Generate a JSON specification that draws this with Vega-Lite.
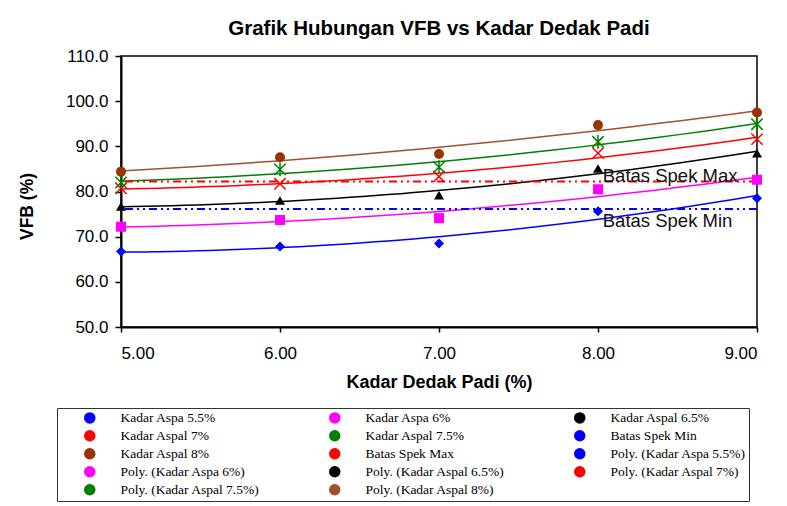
{
  "$schema": "https://vega.github.io/schema/vega-lite/v6.json",
  "width": 636,
  "height": 271,
  "autosize": {"type": "none"},
  "padding": {"left": 121, "top": 56, "right": 30, "bottom": 179},
  "background": "white",
  "title": {
    "text": "Grafik Hubungan VFB vs Kadar Dedak Padi",
    "anchor": "middle",
    "font": "Liberation Sans",
    "fontSize": 20.5,
    "fontWeight": "bold",
    "color": "black",
    "offset": 8
  },
  "datasets": {
    "pts": [
      {"x": 5, "vfb": 66.7, "series": "Kadar Aspa 5.5%", "trend": "Poly. (Kadar Aspa 5.5%)"},
      {"x": 6, "vfb": 67.8, "series": "Kadar Aspa 5.5%", "trend": "Poly. (Kadar Aspa 5.5%)"},
      {"x": 7, "vfb": 68.5, "series": "Kadar Aspa 5.5%", "trend": "Poly. (Kadar Aspa 5.5%)"},
      {"x": 8, "vfb": 75.6, "series": "Kadar Aspa 5.5%", "trend": "Poly. (Kadar Aspa 5.5%)"},
      {"x": 9, "vfb": 78.5, "series": "Kadar Aspa 5.5%", "trend": "Poly. (Kadar Aspa 5.5%)"},
      {"x": 5, "vfb": 72.2, "series": "Kadar Aspa 6%", "trend": "Poly. (Kadar Aspa 6%)"},
      {"x": 6, "vfb": 73.7, "series": "Kadar Aspa 6%", "trend": "Poly. (Kadar Aspa 6%)"},
      {"x": 7, "vfb": 74.1, "series": "Kadar Aspa 6%", "trend": "Poly. (Kadar Aspa 6%)"},
      {"x": 8, "vfb": 80.5, "series": "Kadar Aspa 6%", "trend": "Poly. (Kadar Aspa 6%)"},
      {"x": 9, "vfb": 82.6, "series": "Kadar Aspa 6%", "trend": "Poly. (Kadar Aspa 6%)"},
      {"x": 5, "vfb": 76.7, "series": "Kadar Aspal 6.5%", "trend": "Poly. (Kadar Aspal 6.5%)"},
      {"x": 6, "vfb": 78.0, "series": "Kadar Aspal 6.5%", "trend": "Poly. (Kadar Aspal 6.5%)"},
      {"x": 7, "vfb": 79.2, "series": "Kadar Aspal 6.5%", "trend": "Poly. (Kadar Aspal 6.5%)"},
      {"x": 8, "vfb": 85.1, "series": "Kadar Aspal 6.5%", "trend": "Poly. (Kadar Aspal 6.5%)"},
      {"x": 9, "vfb": 88.5, "series": "Kadar Aspal 6.5%", "trend": "Poly. (Kadar Aspal 6.5%)"},
      {"x": 5, "vfb": 80.7, "series": "Kadar Aspal 7%", "trend": "Poly. (Kadar Aspal 7%)"},
      {"x": 6, "vfb": 81.7, "series": "Kadar Aspal 7%", "trend": "Poly. (Kadar Aspal 7%)"},
      {"x": 7, "vfb": 83.3, "series": "Kadar Aspal 7%", "trend": "Poly. (Kadar Aspal 7%)"},
      {"x": 8, "vfb": 88.5, "series": "Kadar Aspal 7%", "trend": "Poly. (Kadar Aspal 7%)"},
      {"x": 9, "vfb": 91.6, "series": "Kadar Aspal 7%", "trend": "Poly. (Kadar Aspal 7%)"},
      {"x": 5, "vfb": 82.0, "series": "Kadar Aspal 7.5%", "trend": "Poly. (Kadar Aspal 7.5%)"},
      {"x": 6, "vfb": 84.9, "series": "Kadar Aspal 7.5%", "trend": "Poly. (Kadar Aspal 7.5%)"},
      {"x": 7, "vfb": 85.4, "series": "Kadar Aspal 7.5%", "trend": "Poly. (Kadar Aspal 7.5%)"},
      {"x": 8, "vfb": 91.0, "series": "Kadar Aspal 7.5%", "trend": "Poly. (Kadar Aspal 7.5%)"},
      {"x": 9, "vfb": 94.9, "series": "Kadar Aspal 7.5%", "trend": "Poly. (Kadar Aspal 7.5%)"},
      {"x": 5, "vfb": 84.4, "series": "Kadar Aspal 8%", "trend": "Poly. (Kadar Aspal 8%)"},
      {"x": 6, "vfb": 87.6, "series": "Kadar Aspal 8%", "trend": "Poly. (Kadar Aspal 8%)"},
      {"x": 7, "vfb": 88.3, "series": "Kadar Aspal 8%", "trend": "Poly. (Kadar Aspal 8%)"},
      {"x": 8, "vfb": 94.7, "series": "Kadar Aspal 8%", "trend": "Poly. (Kadar Aspal 8%)"},
      {"x": 9, "vfb": 97.5, "series": "Kadar Aspal 8%", "trend": "Poly. (Kadar Aspal 8%)"}
    ],
    "limits": [
      {"series": "Batas Spek Max", "vfb": 82.2},
      {"series": "Batas Spek Min", "vfb": 76.1}
    ],
    "notes": [
      {"label": "Batas Spek Max", "x": 8.03, "vfb": 82.0},
      {"label": "Batas Spek Min", "x": 8.03, "vfb": 72.2}
    ]
  },
  "layer": [
    {
      "data": {"name": "pts"},
      "transform": [
        {"regression": "vfb", "on": "x", "method": "poly", "order": 2, "groupby": ["trend"]}
      ],
      "mark": {"type": "line", "strokeWidth": 1.5},
      "encoding": {
        "x": {
          "field": "x", "type": "quantitative",
          "scale": {"domain": [5, 9], "nice": false, "zero": false},
          "axis": {
            "orient": "bottom",
            "title": "Kadar Dedak Padi (%)",
            "values": [5, 6, 7, 8, 9],
            "format": ".2f",
            "grid": false,
            "domainColor": "black", "domainWidth": 2,
            "tickColor": "black", "tickWidth": 1.5, "tickSize": 5,
            "labelFont": "Liberation Sans", "labelFontSize": 17, "labelColor": "black",
            "labelPadding": 13,
            "titleFont": "Liberation Sans", "titleFontSize": 18, "titleFontWeight": "bold", "titleColor": "black",
            "titleX": 318, "titleY": 60, "titleBaseline": "alphabetic", "titleAlign": "center"
          }
        },
        "y": {
          "field": "vfb", "type": "quantitative",
          "scale": {"domain": [50, 110], "nice": false, "zero": false},
          "axis": {
            "orient": "left",
            "title": "VFB (%)",
            "values": [50, 60, 70, 80, 90, 100, 110],
            "format": ".1f",
            "grid": false,
            "domainColor": "black", "domainWidth": 2,
            "tickColor": "black", "tickWidth": 1.5, "tickSize": 6,
            "labelFont": "Liberation Sans", "labelFontSize": 17, "labelColor": "black",
            "labelPadding": 7,
            "titleFont": "Liberation Sans", "titleFontSize": 17.5, "titleFontWeight": "bold", "titleColor": "black",
            "titleX": -94, "titleY": 150, "titleAngle": 270, "titleBaseline": "middle", "titleAlign": "center"
          }
        },
        "color": {
          "field": "trend", "type": "nominal",
          "scale": {
            "domain": ["Kadar Aspa 5.5%", "Kadar Aspa 6%", "Kadar Aspal 6.5%", "Kadar Aspal 7%", "Kadar Aspal 7.5%", "Batas Spek Min", "Kadar Aspal 8%", "Batas Spek Max", "Poly. (Kadar Aspa 5.5%)", "Poly. (Kadar Aspa 6%)", "Poly. (Kadar Aspal 6.5%)", "Poly. (Kadar Aspal 7%)", "Poly. (Kadar Aspal 7.5%)", "Poly. (Kadar Aspal 8%)"],
            "range": ["#0000FF", "#FF00FF", "#000000", "#FF0000", "#008000", "#0000FF", "#993300", "#FF0000", "#0000FF", "#FF00FF", "#000000", "#FF0000", "#008000", "#A0522D"]
          },
          "legend": {
            "title": null,
            "orient": "none",
            "legendX": -64,
            "legendY": 352,
            "columns": 3,
            "direction": "horizontal",
            "gridAlign": "all",
            "columnPadding": 45,
            "rowPadding": 1,
            "padding": 3,
            "strokeColor": "#333333",
            "symbolOffset": 23,
            "labelOffset": 24,
            "labelFont": "Liberation Serif",
            "labelFontSize": 13.5,
            "labelColor": "black",
            "labelLimit": 300
          }
        }
      }
    },
    {
      "data": {"name": "limits"},
      "mark": {"type": "rule", "strokeWidth": 2, "strokeDash": [8, 4, 2, 4, 2, 4]},
      "encoding": {
        "y": {"field": "vfb", "type": "quantitative"},
        "color": {"field": "series", "type": "nominal"}
      }
    },
    {
      "data": {"name": "pts"},
      "transform": [{"filter": "datum.series !== 'Kadar Aspal 7%' && datum.series !== 'Kadar Aspal 7.5%'"}],
      "mark": {"type": "point", "filled": true, "opacity": 1},
      "encoding": {
        "x": {"field": "x", "type": "quantitative"},
        "y": {"field": "vfb", "type": "quantitative"},
        "color": {"field": "series", "type": "nominal"},
        "shape": {
          "field": "series", "type": "nominal", "legend": null,
          "scale": {
            "domain": ["Kadar Aspa 5.5%", "Kadar Aspa 6%", "Kadar Aspal 6.5%", "Kadar Aspal 8%", "Kadar Aspal 7%", "Kadar Aspal 7.5%"],
            "range": ["diamond", "square", "triangle-up", "circle", "M-1,-1L1,1M-1,1L1,-1", "M-1,-1L1,1M-1,1L1,-1M0,-1.2L0,1.2"]
          }
        },
        "size": {"value": 100}
      }
    },
    {
      "data": {"name": "pts"},
      "transform": [{"filter": "datum.series === 'Kadar Aspal 7%' || datum.series === 'Kadar Aspal 7.5%'"}],
      "mark": {"type": "point", "filled": false, "opacity": 1, "strokeWidth": 1.5},
      "encoding": {
        "x": {"field": "x", "type": "quantitative"},
        "y": {"field": "vfb", "type": "quantitative"},
        "color": {"field": "series", "type": "nominal"},
        "shape": {"field": "series", "type": "nominal", "legend": null},
        "size": {"value": 130}
      }
    },
    {
      "data": {"name": "notes"},
      "mark": {"type": "text", "align": "left", "baseline": "alphabetic", "font": "Liberation Sans", "fontSize": 18.5, "color": "#111111"},
      "encoding": {
        "x": {"field": "x", "type": "quantitative"},
        "y": {"field": "vfb", "type": "quantitative"},
        "text": {"field": "label", "type": "nominal"}
      }
    }
  ],
  "config": {
    "view": {"stroke": "black", "strokeWidth": 1.5},
    "axis": {"labelOverlap": false}
  }
}
